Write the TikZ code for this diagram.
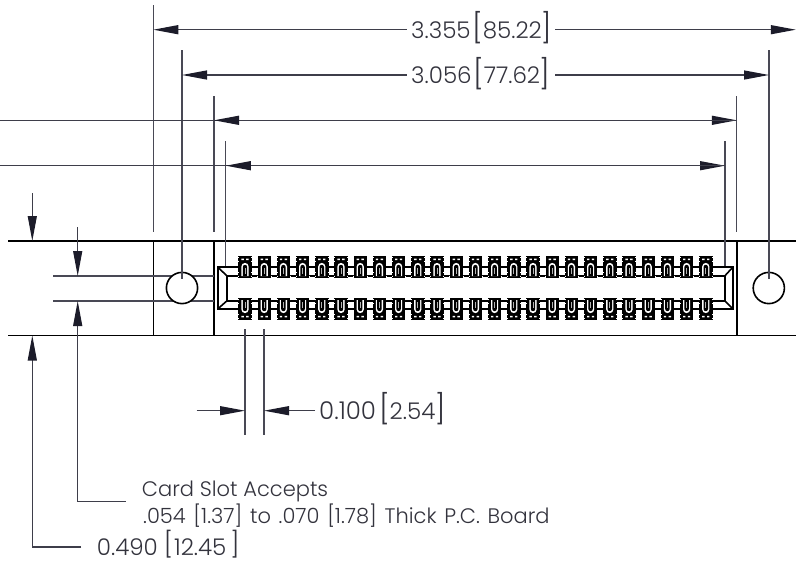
\documentclass[tikz,border=0pt]{standalone}
\usepackage{fontspec}
\setmainfont{Poppins}[UprightFont=* Light]
\usetikzlibrary{arrows.meta}
\definecolor{ink}{HTML}{1C1C2A}
\definecolor{txt}{HTML}{33333D}
\tikzset{
  x=1pt,y=-1pt,
  dim/.style={draw=ink!85,line width=1.2pt,-{Triangle[length=25pt,width=9pt,color=ink]}},
  ext/.style={draw=ink!80,line width=1.2pt},
  body/.style={draw=black,line width=1.6pt},
  big/.style={inner sep=0pt,anchor=base west,text=txt,font=\fontsize{23}{26}\selectfont},
  small/.style={inner sep=0pt,anchor=base west,text=txt,font=\fontsize{21}{24}\selectfont},
}
\newcommand{\bkt}[1]{{\fontsize{29}{30}\selectfont\raisebox{-0.5pt}{#1}}}
\newcommand{\bks}[1]{{\fontsize{25}{28}\selectfont\raisebox{2pt}{#1}}}
\newcommand{\contact}[2]{%
  \begin{scope}[shift={(#1,288)},yscale=#2]
    \fill[black] (-6.7,-32)rectangle(6.7,-10);
    \fill[white] (-3.6,-29.4)rectangle(-1.2,-27.8) (1.2,-29.4)rectangle(3.6,-27.8);
    \fill[white] (-3.6,-12)--(-3.6,-21.5) arc(180:360:3.6)--(3.6,-12)--cycle;
    \fill[black] (-2.2,-12)--(-2.2,-21) arc(180:360:2.2)--(2.2,-12)--cycle;
    \fill[white!70!black] (-0.5,-14)rectangle(0.5,-20);
    \draw[white,line width=.45pt,dash pattern=on 1pt off 2.6pt] (-6.55,-31)--(-6.55,-24) (6.55,-31)--(6.55,-24);
    \draw[white,line width=.45pt,dash pattern=on 1pt off 2.6pt] (-6.55,-16)--(-6.55,-10) (6.55,-16)--(6.55,-10);
  \end{scope}}
\begin{document}
\begin{tikzpicture}
\useasboundingbox (0,0) rectangle (796,563);
\fill[white] (0,0) rectangle (796,563);
% named points
\coordinate (xa) at (153.3,0);\coordinate (xb) at (182,0);\coordinate (xc) at (214,0);\coordinate (xd) at (225.8,0);
\coordinate (xe) at (725,0);\coordinate (xf) at (736.8,0);\coordinate (xg) at (769,0);
% body
\draw[body] (8,241)--(796,241) (8,335.5)--(796,335.5);
\draw[body] (153.3,241)--(153.3,335.5) (214,241)--(214,335.5) (736.8,241)--(736.8,335.5);
\draw[ext,line width=1.2pt] (53,276)--(214,276) (53,301)--(214,301);
\draw[body,fill=white] (182,288) circle (15.6);
\draw[body,fill=white] (768.8,288) circle (15.6);
% slot
\draw[body,line width=1.7pt] (226.7,275.7)--(725,275.7)--(725,301)--(226.7,301)--cycle;
\draw[body,line width=1.7pt] (217.7,267)--(733,267)--(733,309)--(217.7,309)--cycle;
\draw[body] (217.7,267)--(226.7,275.7) (217.7,309)--(226.7,301) (733,267)--(725,275.7) (733,309)--(725,301);
\foreach \i in {0,...,24}{\pgfmathsetmacro{\cx}{245+19.2*\i}\contact{\cx}{1}\contact{\cx}{-1}}
% extension lines
\draw[ext] (153.3,5)--(153.3,231.7) (182,50)--(182,279) (214,96)--(214,231.7) (225.8,141)--(225.8,266);
\draw[ext] (725,141)--(725,266) (736.8,96)--(736.8,231.7) (769,50)--(769,279);
\draw[ext] (245,329)--(245,435) (264,329)--(264,435);
% top dims
\node[big] (da) at (411,38) {3.355\kern1.5pt\bkt{[}85.22\kern-1pt\bkt{]}};
\node[big] (db) at (411,83.5) {3.056\kern1.5pt\bkt{[}77.62\kern-1pt\bkt{]}};
\draw[dim] (406.7,29.7)--(xa|-0,29.7);
\draw[dim] (555,29.7)--(795.8,29.7);
\draw[dim] (406.7,75)--(xb|-0,75);
\draw[dim] (555,75)--(xg|-0,75);
\draw[dim] (0,120.3)--(736.8,120.3);
\draw[dim] (736,120.3)--(214,120.3);
\draw[dim] (0,165.7)--(725,165.7);
\draw[dim] (724,165.7)--(225.8,165.7);
% left dims
\draw[dim] (32.3,193)--(32.3,241);
\draw[dim] (77.7,227)--(77.7,276);
\draw[dim] (125.7,501.7)--(77.7,501.7)--(77.7,301);
\draw[dim] (81,547)--(32.3,547)--(32.3,335.5);
% pitch dim
\draw[dim] (196.7,410.7)--(245,410.7);
\draw[dim] (315,410.7)--(264,410.7);
\node[big,font=\fontsize{24.5}{27}\selectfont] (dc) at (319,419.3) {0.100\kern3pt\bkt{[}{\fontsize{23}{26}\selectfont 2.54}\kern-.5pt\bkt{]}};
\node[big] (dd) at (96.7,555.5) {0.490\kern6pt\bks{[}\kern1pt 12.45\kern4pt\bks{]}};
\node[small] (n1) at (141.7,496.5) {Card Slot Accepts};
\node[small] (n2) at (143,523) {\spaceskip=7.7pt .054 [1.37] to .070 [1.78] Thick P.C. Board};
\end{tikzpicture}
\end{document}
